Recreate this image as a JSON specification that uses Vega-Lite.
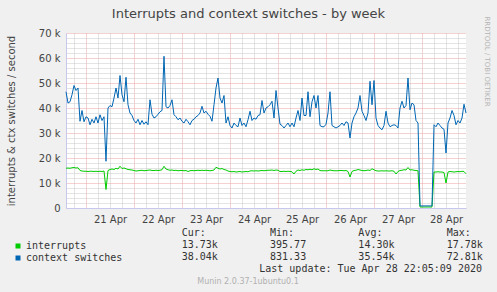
{
  "$schema": "https://vega.github.io/schema/vega-lite/v6.json",
  "width": 400,
  "height": 175,
  "autosize": {"type": "none"},
  "padding": {"left": 66, "top": 33, "right": 31, "bottom": 84},
  "background": "#f0f0f0",
  "view": {"fill": "#ffffff", "stroke": null},
  "config": {"font": "DejaVu Sans"},
  "layer": [
    {
      "data": {"values": [
        {"t":"2020-04-20T14:00:00Z","interrupts":15900,"context switches":46500},
        {"t":"2020-04-20T15:00:00Z","interrupts":16000,"context switches":42000},
        {"t":"2020-04-20T16:00:00Z","interrupts":15900,"context switches":42500},
        {"t":"2020-04-20T17:00:00Z","interrupts":16100,"context switches":45300},
        {"t":"2020-04-20T18:00:00Z","interrupts":16200,"context switches":49000},
        {"t":"2020-04-20T19:00:00Z","interrupts":16000,"context switches":47000},
        {"t":"2020-04-20T20:00:00Z","interrupts":16100,"context switches":48000},
        {"t":"2020-04-20T21:00:00Z","interrupts":15000,"context switches":34700},
        {"t":"2020-04-20T22:00:00Z","interrupts":14800,"context switches":39000},
        {"t":"2020-04-20T23:00:00Z","interrupts":14700,"context switches":34500},
        {"t":"2020-04-21T00:00:00Z","interrupts":14700,"context switches":36500},
        {"t":"2020-04-21T01:00:00Z","interrupts":14600,"context switches":36000},
        {"t":"2020-04-21T02:00:00Z","interrupts":14700,"context switches":33300},
        {"t":"2020-04-21T03:00:00Z","interrupts":14700,"context switches":35500},
        {"t":"2020-04-21T04:00:00Z","interrupts":14600,"context switches":34000},
        {"t":"2020-04-21T05:00:00Z","interrupts":14700,"context switches":36500},
        {"t":"2020-04-21T06:00:00Z","interrupts":14600,"context switches":34000},
        {"t":"2020-04-21T07:00:00Z","interrupts":14700,"context switches":37300},
        {"t":"2020-04-21T08:00:00Z","interrupts":14600,"context switches":35000},
        {"t":"2020-04-21T09:00:00Z","interrupts":14800,"context switches":36500},
        {"t":"2020-04-21T10:00:00Z","interrupts":7400,"context switches":18700},
        {"t":"2020-04-21T11:00:00Z","interrupts":15000,"context switches":40000},
        {"t":"2020-04-21T12:00:00Z","interrupts":15400,"context switches":41000},
        {"t":"2020-04-21T13:00:00Z","interrupts":15600,"context switches":40500},
        {"t":"2020-04-21T14:00:00Z","interrupts":15400,"context switches":44000},
        {"t":"2020-04-21T15:00:00Z","interrupts":15900,"context switches":48000},
        {"t":"2020-04-21T16:00:00Z","interrupts":15600,"context switches":44000},
        {"t":"2020-04-21T17:00:00Z","interrupts":16700,"context switches":53000},
        {"t":"2020-04-21T18:00:00Z","interrupts":15800,"context switches":45300},
        {"t":"2020-04-21T19:00:00Z","interrupts":16000,"context switches":42500},
        {"t":"2020-04-21T20:00:00Z","interrupts":15700,"context switches":52300},
        {"t":"2020-04-21T21:00:00Z","interrupts":15400,"context switches":41300},
        {"t":"2020-04-21T22:00:00Z","interrupts":15300,"context switches":38000},
        {"t":"2020-04-21T23:00:00Z","interrupts":15200,"context switches":37000},
        {"t":"2020-04-22T00:00:00Z","interrupts":15000,"context switches":35000},
        {"t":"2020-04-22T01:00:00Z","interrupts":14800,"context switches":34000},
        {"t":"2020-04-22T02:00:00Z","interrupts":14900,"context switches":35500},
        {"t":"2020-04-22T03:00:00Z","interrupts":15000,"context switches":33300},
        {"t":"2020-04-22T04:00:00Z","interrupts":15100,"context switches":35000},
        {"t":"2020-04-22T05:00:00Z","interrupts":14900,"context switches":33500},
        {"t":"2020-04-22T06:00:00Z","interrupts":15000,"context switches":34500},
        {"t":"2020-04-22T07:00:00Z","interrupts":15100,"context switches":33300},
        {"t":"2020-04-22T08:00:00Z","interrupts":15200,"context switches":43300},
        {"t":"2020-04-22T09:00:00Z","interrupts":15000,"context switches":37500},
        {"t":"2020-04-22T10:00:00Z","interrupts":15000,"context switches":36000},
        {"t":"2020-04-22T11:00:00Z","interrupts":15100,"context switches":36500},
        {"t":"2020-04-22T12:00:00Z","interrupts":15000,"context switches":37500},
        {"t":"2020-04-22T13:00:00Z","interrupts":15100,"context switches":38500},
        {"t":"2020-04-22T14:00:00Z","interrupts":15300,"context switches":39000},
        {"t":"2020-04-22T15:00:00Z","interrupts":16700,"context switches":60700},
        {"t":"2020-04-22T16:00:00Z","interrupts":15600,"context switches":40500},
        {"t":"2020-04-22T17:00:00Z","interrupts":15300,"context switches":40000},
        {"t":"2020-04-22T18:00:00Z","interrupts":15100,"context switches":41000},
        {"t":"2020-04-22T19:00:00Z","interrupts":15200,"context switches":43300},
        {"t":"2020-04-22T20:00:00Z","interrupts":15000,"context switches":37300},
        {"t":"2020-04-22T21:00:00Z","interrupts":15100,"context switches":36500},
        {"t":"2020-04-22T22:00:00Z","interrupts":14900,"context switches":35300},
        {"t":"2020-04-22T23:00:00Z","interrupts":15000,"context switches":36000},
        {"t":"2020-04-23T00:00:00Z","interrupts":15000,"context switches":34700},
        {"t":"2020-04-23T01:00:00Z","interrupts":14900,"context switches":34000},
        {"t":"2020-04-23T02:00:00Z","interrupts":15000,"context switches":35500},
        {"t":"2020-04-23T03:00:00Z","interrupts":14600,"context switches":34500},
        {"t":"2020-04-23T04:00:00Z","interrupts":14900,"context switches":33300},
        {"t":"2020-04-23T05:00:00Z","interrupts":15000,"context switches":35000},
        {"t":"2020-04-23T06:00:00Z","interrupts":14900,"context switches":35500},
        {"t":"2020-04-23T07:00:00Z","interrupts":15000,"context switches":36500},
        {"t":"2020-04-23T08:00:00Z","interrupts":15100,"context switches":37000},
        {"t":"2020-04-23T09:00:00Z","interrupts":15000,"context switches":38000},
        {"t":"2020-04-23T10:00:00Z","interrupts":15100,"context switches":40700},
        {"t":"2020-04-23T11:00:00Z","interrupts":15000,"context switches":38000},
        {"t":"2020-04-23T12:00:00Z","interrupts":15100,"context switches":38700},
        {"t":"2020-04-23T13:00:00Z","interrupts":15000,"context switches":37500},
        {"t":"2020-04-23T14:00:00Z","interrupts":14900,"context switches":36700},
        {"t":"2020-04-23T15:00:00Z","interrupts":15000,"context switches":34700},
        {"t":"2020-04-23T16:00:00Z","interrupts":15200,"context switches":41300},
        {"t":"2020-04-23T17:00:00Z","interrupts":16300,"context switches":48000},
        {"t":"2020-04-23T18:00:00Z","interrupts":15900,"context switches":52000},
        {"t":"2020-04-23T19:00:00Z","interrupts":15600,"context switches":44000},
        {"t":"2020-04-23T20:00:00Z","interrupts":15800,"context switches":42000},
        {"t":"2020-04-23T21:00:00Z","interrupts":15400,"context switches":45000},
        {"t":"2020-04-23T22:00:00Z","interrupts":15200,"context switches":34000},
        {"t":"2020-04-23T23:00:00Z","interrupts":14800,"context switches":36500},
        {"t":"2020-04-24T00:00:00Z","interrupts":14600,"context switches":33000},
        {"t":"2020-04-24T01:00:00Z","interrupts":14500,"context switches":32000},
        {"t":"2020-04-24T02:00:00Z","interrupts":14600,"context switches":34000},
        {"t":"2020-04-24T03:00:00Z","interrupts":14400,"context switches":33000},
        {"t":"2020-04-24T04:00:00Z","interrupts":14500,"context switches":32500},
        {"t":"2020-04-24T05:00:00Z","interrupts":14600,"context switches":36000},
        {"t":"2020-04-24T06:00:00Z","interrupts":14400,"context switches":33000},
        {"t":"2020-04-24T07:00:00Z","interrupts":14500,"context switches":34000},
        {"t":"2020-04-24T08:00:00Z","interrupts":14600,"context switches":32500},
        {"t":"2020-04-24T09:00:00Z","interrupts":14500,"context switches":35300},
        {"t":"2020-04-24T10:00:00Z","interrupts":14800,"context switches":38700},
        {"t":"2020-04-24T11:00:00Z","interrupts":14900,"context switches":35000},
        {"t":"2020-04-24T12:00:00Z","interrupts":14800,"context switches":36000},
        {"t":"2020-04-24T13:00:00Z","interrupts":14900,"context switches":35500},
        {"t":"2020-04-24T14:00:00Z","interrupts":14800,"context switches":37000},
        {"t":"2020-04-24T15:00:00Z","interrupts":14900,"context switches":37300},
        {"t":"2020-04-24T16:00:00Z","interrupts":15000,"context switches":43000},
        {"t":"2020-04-24T17:00:00Z","interrupts":14900,"context switches":38000},
        {"t":"2020-04-24T18:00:00Z","interrupts":15000,"context switches":40000},
        {"t":"2020-04-24T19:00:00Z","interrupts":15100,"context switches":40500},
        {"t":"2020-04-24T20:00:00Z","interrupts":15100,"context switches":41300},
        {"t":"2020-04-24T21:00:00Z","interrupts":15200,"context switches":42700},
        {"t":"2020-04-24T22:00:00Z","interrupts":15000,"context switches":36000},
        {"t":"2020-04-24T23:00:00Z","interrupts":15200,"context switches":47000},
        {"t":"2020-04-25T00:00:00Z","interrupts":15100,"context switches":40000},
        {"t":"2020-04-25T01:00:00Z","interrupts":14600,"context switches":33500},
        {"t":"2020-04-25T02:00:00Z","interrupts":14600,"context switches":33000},
        {"t":"2020-04-25T03:00:00Z","interrupts":14700,"context switches":32000},
        {"t":"2020-04-25T04:00:00Z","interrupts":14600,"context switches":33000},
        {"t":"2020-04-25T05:00:00Z","interrupts":14700,"context switches":34000},
        {"t":"2020-04-25T06:00:00Z","interrupts":14600,"context switches":32500},
        {"t":"2020-04-25T07:00:00Z","interrupts":14500,"context switches":34000},
        {"t":"2020-04-25T08:00:00Z","interrupts":13600,"context switches":32500},
        {"t":"2020-04-25T09:00:00Z","interrupts":14700,"context switches":36000},
        {"t":"2020-04-25T10:00:00Z","interrupts":15200,"context switches":39000},
        {"t":"2020-04-25T11:00:00Z","interrupts":15000,"context switches":35000},
        {"t":"2020-04-25T12:00:00Z","interrupts":15300,"context switches":44000},
        {"t":"2020-04-25T13:00:00Z","interrupts":15100,"context switches":37000},
        {"t":"2020-04-25T14:00:00Z","interrupts":15400,"context switches":37000},
        {"t":"2020-04-25T15:00:00Z","interrupts":15300,"context switches":46500},
        {"t":"2020-04-25T16:00:00Z","interrupts":15500,"context switches":36500},
        {"t":"2020-04-25T17:00:00Z","interrupts":15300,"context switches":42500},
        {"t":"2020-04-25T18:00:00Z","interrupts":15700,"context switches":45000},
        {"t":"2020-04-25T19:00:00Z","interrupts":15400,"context switches":40000},
        {"t":"2020-04-25T20:00:00Z","interrupts":15600,"context switches":45000},
        {"t":"2020-04-25T21:00:00Z","interrupts":15000,"context switches":33000},
        {"t":"2020-04-25T22:00:00Z","interrupts":14900,"context switches":32500},
        {"t":"2020-04-25T23:00:00Z","interrupts":14900,"context switches":32500},
        {"t":"2020-04-26T00:00:00Z","interrupts":14900,"context switches":33500},
        {"t":"2020-04-26T01:00:00Z","interrupts":14900,"context switches":38000},
        {"t":"2020-04-26T02:00:00Z","interrupts":15200,"context switches":46500},
        {"t":"2020-04-26T03:00:00Z","interrupts":15000,"context switches":33000},
        {"t":"2020-04-26T04:00:00Z","interrupts":14900,"context switches":32500},
        {"t":"2020-04-26T05:00:00Z","interrupts":14900,"context switches":32000},
        {"t":"2020-04-26T06:00:00Z","interrupts":14900,"context switches":32500},
        {"t":"2020-04-26T07:00:00Z","interrupts":15000,"context switches":33000},
        {"t":"2020-04-26T08:00:00Z","interrupts":15000,"context switches":34000},
        {"t":"2020-04-26T09:00:00Z","interrupts":14900,"context switches":33000},
        {"t":"2020-04-26T10:00:00Z","interrupts":15000,"context switches":34500},
        {"t":"2020-04-26T11:00:00Z","interrupts":14600,"context switches":34000},
        {"t":"2020-04-26T12:00:00Z","interrupts":12400,"context switches":28000},
        {"t":"2020-04-26T13:00:00Z","interrupts":14600,"context switches":34000},
        {"t":"2020-04-26T14:00:00Z","interrupts":15000,"context switches":36500},
        {"t":"2020-04-26T15:00:00Z","interrupts":15100,"context switches":38000},
        {"t":"2020-04-26T16:00:00Z","interrupts":15400,"context switches":40000},
        {"t":"2020-04-26T17:00:00Z","interrupts":15200,"context switches":45000},
        {"t":"2020-04-26T18:00:00Z","interrupts":15000,"context switches":38700},
        {"t":"2020-04-26T19:00:00Z","interrupts":14900,"context switches":37000},
        {"t":"2020-04-26T20:00:00Z","interrupts":15000,"context switches":35000},
        {"t":"2020-04-26T21:00:00Z","interrupts":15200,"context switches":38000},
        {"t":"2020-04-26T22:00:00Z","interrupts":15000,"context switches":50700},
        {"t":"2020-04-26T23:00:00Z","interrupts":15700,"context switches":41300},
        {"t":"2020-04-27T00:00:00Z","interrupts":15300,"context switches":51000},
        {"t":"2020-04-27T01:00:00Z","interrupts":14900,"context switches":36000},
        {"t":"2020-04-27T02:00:00Z","interrupts":14800,"context switches":33000},
        {"t":"2020-04-27T03:00:00Z","interrupts":14800,"context switches":32000},
        {"t":"2020-04-27T04:00:00Z","interrupts":14900,"context switches":31300},
        {"t":"2020-04-27T05:00:00Z","interrupts":14800,"context switches":33000},
        {"t":"2020-04-27T06:00:00Z","interrupts":14900,"context switches":38700},
        {"t":"2020-04-27T07:00:00Z","interrupts":14800,"context switches":34000},
        {"t":"2020-04-27T08:00:00Z","interrupts":14800,"context switches":32500},
        {"t":"2020-04-27T09:00:00Z","interrupts":14900,"context switches":33000},
        {"t":"2020-04-27T10:00:00Z","interrupts":14700,"context switches":33300},
        {"t":"2020-04-27T11:00:00Z","interrupts":13600,"context switches":33000},
        {"t":"2020-04-27T12:00:00Z","interrupts":14600,"context switches":32000},
        {"t":"2020-04-27T13:00:00Z","interrupts":15000,"context switches":40000},
        {"t":"2020-04-27T14:00:00Z","interrupts":15100,"context switches":42700},
        {"t":"2020-04-27T15:00:00Z","interrupts":15300,"context switches":40000},
        {"t":"2020-04-27T16:00:00Z","interrupts":15200,"context switches":41000},
        {"t":"2020-04-27T17:00:00Z","interrupts":16200,"context switches":52000},
        {"t":"2020-04-27T18:00:00Z","interrupts":15200,"context switches":39300},
        {"t":"2020-04-27T19:00:00Z","interrupts":15300,"context switches":42000},
        {"t":"2020-04-27T20:00:00Z","interrupts":15100,"context switches":41300},
        {"t":"2020-04-27T21:00:00Z","interrupts":15000,"context switches":35000},
        {"t":"2020-04-27T22:00:00Z","interrupts":14900,"context switches":34000},
        {"t":"2020-04-27T23:00:00Z","interrupts":400,"context switches":830},
        {"t":"2020-04-28T00:00:00Z","interrupts":396,"context switches":831},
        {"t":"2020-04-28T01:00:00Z","interrupts":400,"context switches":835},
        {"t":"2020-04-28T02:00:00Z","interrupts":398,"context switches":832},
        {"t":"2020-04-28T03:00:00Z","interrupts":400,"context switches":833},
        {"t":"2020-04-28T04:00:00Z","interrupts":397,"context switches":831},
        {"t":"2020-04-28T05:00:00Z","interrupts":400,"context switches":834},
        {"t":"2020-04-28T06:00:00Z","interrupts":14400,"context switches":33300},
        {"t":"2020-04-28T07:00:00Z","interrupts":14400,"context switches":32500},
        {"t":"2020-04-28T08:00:00Z","interrupts":14500,"context switches":34000},
        {"t":"2020-04-28T09:00:00Z","interrupts":14400,"context switches":33000},
        {"t":"2020-04-28T10:00:00Z","interrupts":14400,"context switches":32000},
        {"t":"2020-04-28T11:00:00Z","interrupts":14200,"context switches":31500},
        {"t":"2020-04-28T12:00:00Z","interrupts":10000,"context switches":22000},
        {"t":"2020-04-28T13:00:00Z","interrupts":14400,"context switches":34000},
        {"t":"2020-04-28T14:00:00Z","interrupts":14600,"context switches":36000},
        {"t":"2020-04-28T15:00:00Z","interrupts":14500,"context switches":39000},
        {"t":"2020-04-28T16:00:00Z","interrupts":14400,"context switches":37000},
        {"t":"2020-04-28T17:00:00Z","interrupts":14500,"context switches":33300},
        {"t":"2020-04-28T18:00:00Z","interrupts":14600,"context switches":35000},
        {"t":"2020-04-28T19:00:00Z","interrupts":14500,"context switches":34000},
        {"t":"2020-04-28T20:00:00Z","interrupts":14700,"context switches":36000},
        {"t":"2020-04-28T21:00:00Z","interrupts":14600,"context switches":41500},
        {"t":"2020-04-28T22:00:00Z","interrupts":13700,"context switches":38000}
      ]},
      "transform": [{"fold": ["interrupts", "context switches"], "as": ["series", "v"]}],
      "mark": {"type": "line", "strokeWidth": 1},
      "encoding": {
        "x": {
          "field": "t", "type": "temporal",
          "scale": {"type": "utc", "domain": [1587391200000, 1588111200000]},
          "axis": {
            "values": [1587405600000,1587427200000,1587448800000,1587470400000,1587492000000,1587513600000,1587535200000,1587556800000,1587578400000,1587600000000,1587621600000,1587643200000,1587664800000,1587686400000,1587708000000,1587729600000,1587751200000,1587772800000,1587794400000,1587816000000,1587837600000,1587859200000,1587880800000,1587902400000,1587924000000,1587945600000,1587967200000,1587988800000,1588010400000,1588032000000,1588053600000,1588075200000,1588096800000],
            "grid": true,
            "gridColor": {"condition": {"test": "utchours(datum.value) === 0", "value": "#eba3a3"}, "value": "#c8c8c8"},
            "gridDash": [1, 1],
            "gridOpacity": 1,
            "ticks": false,
            "domainColor": "#c8c8ee",
            "labelExpr": "utchours(datum.value) === 12 ? utcFormat(datum.value, '%d %b') : ''",
            "labelFont": "DejaVu Sans", "labelFontSize": 10, "labelColor": "#444444", "labelPadding": 6,
            "labelOverlap": false, "labelFlush": false,
            "title": "Munin 2.0.37-1ubuntu0.1",
            "titleFont": "DejaVu Sans", "titleFontSize": 8, "titleFontWeight": "normal", "titleColor": "#b0b0b0",
            "titleX": 181.5, "titleY": 73, "titleAlign": "center", "titleBaseline": "middle"
          }
        },
        "y": {
          "field": "v", "type": "quantitative",
          "scale": {"domain": [0, 70000], "nice": false},
          "axis": {
            "values": [0,2000,4000,6000,8000,10000,12000,14000,16000,18000,20000,22000,24000,26000,28000,30000,32000,34000,36000,38000,40000,42000,44000,46000,48000,50000,52000,54000,56000,58000,60000,62000,64000,66000,68000,70000],
            "grid": true,
            "gridColor": {"condition": {"test": "datum.value % 10000 === 0", "value": "#eba3a3"}, "value": "#c8c8c8"},
            "gridDash": [1, 1],
            "gridOpacity": 1,
            "ticks": false,
            "domainColor": "#c8c8ee",
            "labelExpr": "datum.value % 10000 === 0 ? (datum.value === 0 ? '0' : (datum.value / 1000) + ' k') : ''",
            "labelFont": "DejaVu Sans", "labelFontSize": 10, "labelColor": "#444444", "labelPadding": 6, "labelOverlap": false,
            "title": "interrupts & ctx switches / second",
            "titleFont": "DejaVu Sans", "titleFontSize": 10, "titleFontWeight": "normal", "titleColor": "#444444",
            "titleX": -55, "titleY": 87.5, "titleAngle": 270, "titleAlign": "center", "titleBaseline": "middle"
          }
        },
        "color": {
          "field": "series", "type": "nominal",
          "scale": {"domain": ["interrupts", "context switches"], "range": ["#00cc00", "#0066b3"]},
          "legend": {
            "orient": "none", "legendX": -53, "legendY": 208, "title": null, "direction": "vertical",
            "symbolType": "square", "symbolSize": 6.25, "symbolStrokeWidth": 2.5,
            "labelFont": "DejaVu Sans Mono", "labelFontSize": 10, "labelColor": "#333333", "labelOffset": 3,
            "rowPadding": -2.5, "padding": 0
          }
        }
      }
    },
    {
      "data": {"values": [
        {"row": "hdr", "col": "Cur", "text": "Cur:"},
        {"row": "hdr", "col": "Min", "text": "Min:"},
        {"row": "hdr", "col": "Avg", "text": "Avg:"},
        {"row": "hdr", "col": "Max", "text": "Max:"},
        {"row": "interrupts", "col": "Cur", "text": "13.73k"},
        {"row": "interrupts", "col": "Min", "text": "395.77"},
        {"row": "interrupts", "col": "Avg", "text": "14.30k"},
        {"row": "interrupts", "col": "Max", "text": "17.78k"},
        {"row": "context switches", "col": "Cur", "text": "38.04k"},
        {"row": "context switches", "col": "Min", "text": "831.33"},
        {"row": "context switches", "col": "Avg", "text": "35.54k"},
        {"row": "context switches", "col": "Max", "text": "72.81k"},
        {"row": "upd", "col": "Max", "text": "Last update: Tue Apr 28 22:05:09 2020"}
      ]},
      "encoding": {
        "x": {
          "field": "col", "type": "nominal",
          "scale": {"type": "point", "domain": ["Cur", "Min", "Avg", "Max"], "range": [115.7, 380.7], "padding": 0},
          "axis": {
            "orient": "top", "labels": false, "ticks": false, "domain": false, "grid": false,
            "title": "Interrupts and context switches - by week",
            "titleFont": "DejaVu Sans", "titleFontSize": 13, "titleFontWeight": "normal", "titleColor": "#444444",
            "titleX": 182, "titleY": -15.5, "titleAlign": "center", "titleBaseline": "alphabetic", "titleAngle": 0
          }
        },
        "y": {
          "field": "row", "type": "nominal",
          "scale": {"type": "point", "domain": ["hdr", "interrupts", "context switches", "upd"], "range": [200, 236], "padding": 0},
          "axis": {
            "orient": "right", "labels": false, "ticks": false, "domain": false, "grid": false,
            "title": "RRDTOOL / TOBI OETIKER",
            "titleFont": "DejaVu Sans", "titleFontSize": 7, "titleFontWeight": "normal", "titleColor": "#b4b4b4",
            "titleX": 20.7, "titleY": 28, "titleAngle": 90, "titleAlign": "center", "titleBaseline": "middle"
          }
        },
        "text": {"field": "text", "type": "nominal"}
      },
      "layer": [
        {
          "transform": [{"filter": "datum.row !== 'upd'"}],
          "mark": {"type": "text", "align": "left", "baseline": "middle", "font": "DejaVu Sans Mono", "fontSize": 10, "color": "#333333"}
        },
        {
          "transform": [{"filter": "datum.row === 'upd'"}],
          "mark": {"type": "text", "align": "right", "baseline": "middle", "dx": 35.3, "font": "DejaVu Sans Mono", "fontSize": 10, "color": "#333333"}
        }
      ]
    }
  ],
  "resolve": {"scale": {"x": "independent", "y": "independent"}}
}
